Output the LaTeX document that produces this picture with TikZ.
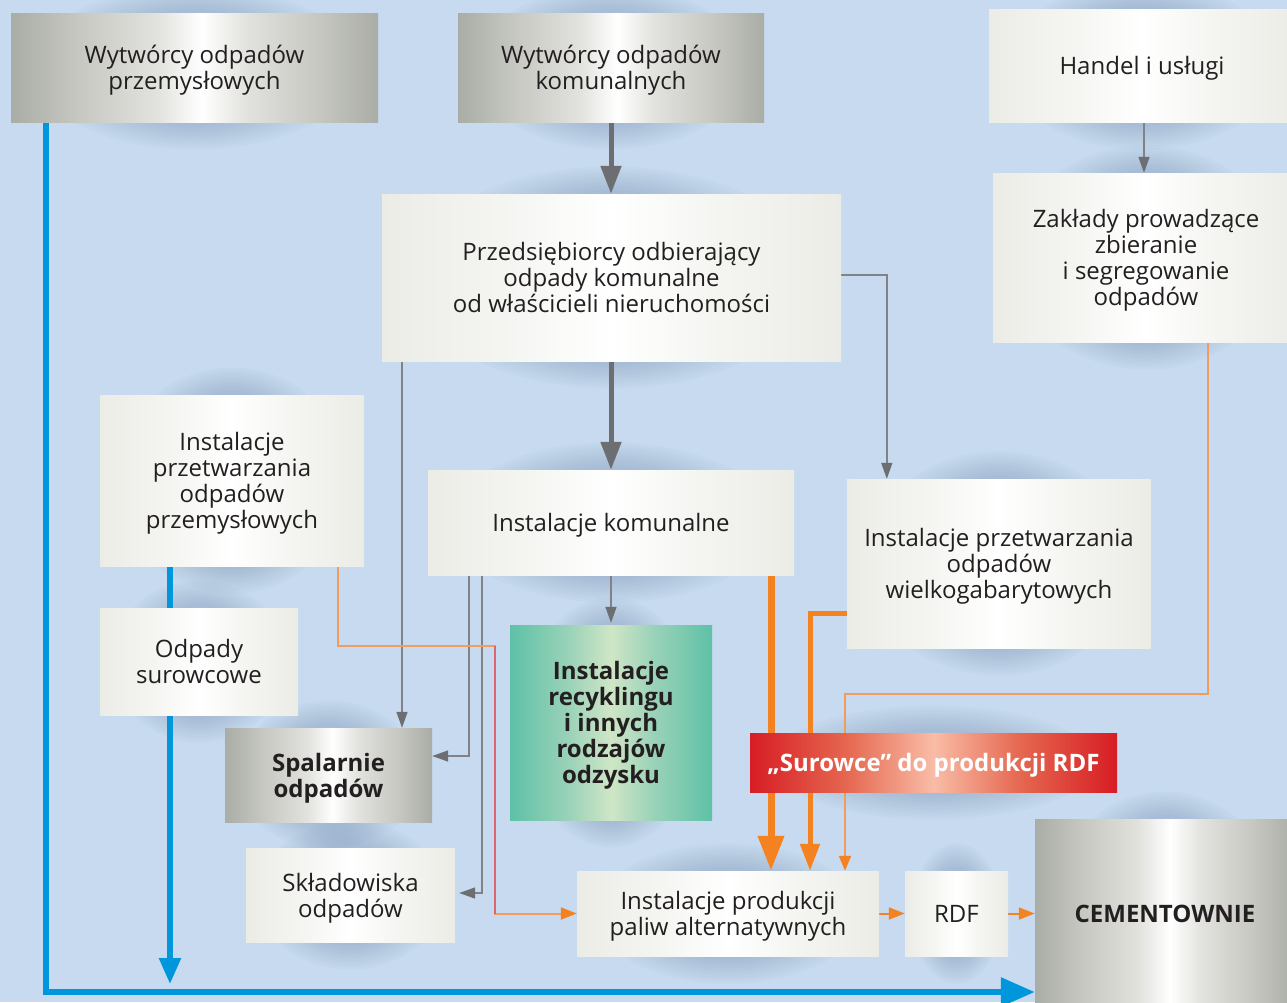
\documentclass[tikz,border=0pt]{standalone}
\usepackage{fontspec}
\setmainfont{Open Sans}
\usetikzlibrary{arrows.meta,calc}
\pgfdeclarelayer{bgl}
\pgfdeclarelayer{shad}
\pgfdeclarelayer{lines}
\pgfsetlayers{bgl,shad,lines,main}
\definecolor{bgblue}{HTML}{C7DAEF}
\definecolor{shadowc}{HTML}{28467A}
\definecolor{txt}{HTML}{231F20}
\definecolor{sv0}{HTML}{AAACA6}
\definecolor{sv1}{HTML}{C6C7C1}
\definecolor{sv2}{HTML}{E2E2DE}
\definecolor{lt0}{HTML}{ECECE7}
\definecolor{lt1}{HTML}{F4F4F1}
\definecolor{gr0}{HTML}{5EC1A7}
\definecolor{gr1}{HTML}{9CD3B9}
\definecolor{gr2}{HTML}{CFE6C6}
\definecolor{rd0}{HTML}{D71D24}
\definecolor{rd1}{HTML}{E5664F}
\definecolor{rd2}{HTML}{F9BCA6}
\definecolor{bluel}{HTML}{0096DB}
\definecolor{grayd}{HTML}{6D6E71}
\definecolor{grayl}{HTML}{808287}
\definecolor{orng}{HTML}{F58220}
\definecolor{orngl}{HTML}{EF9C5C}
\definecolor{pinkl}{HTML}{DC6670}
\pgfdeclarehorizontalshading{silversh}{100bp}{color(0bp)=(sv0); color(25bp)=(sv0); color(34bp)=(sv1); color(45bp)=(sv2); color(51bp)=(white); color(57bp)=(sv2); color(67bp)=(sv1); color(75bp)=(sv0); color(100bp)=(sv0)}
\pgfdeclarehorizontalshading{lightsh}{100bp}{color(0bp)=(lt0); color(25bp)=(lt0); color(38bp)=(lt1); color(50bp)=(white); color(62bp)=(lt1); color(75bp)=(lt0); color(100bp)=(lt0)}
\pgfdeclarehorizontalshading{greensh}{100bp}{color(0bp)=(gr0); color(25bp)=(gr0); color(40bp)=(gr1); color(50bp)=(gr2); color(60bp)=(gr1); color(75bp)=(gr0); color(100bp)=(gr0)}
\pgfdeclarehorizontalshading{redsh}{100bp}{color(0bp)=(rd0); color(25bp)=(rd0); color(38bp)=(rd1); color(50bp)=(rd2); color(62bp)=(rd1); color(75bp)=(rd0); color(100bp)=(rd0)}
\newcommand\mkshadow[1]{%
  \foreach \k in {1,...,10}{%
    \fill[shadowc, fill opacity=0.02] let \p1=(#1.north east), \p2=(#1.south west),
      \n1={(\x1-\x2)/2}, \n2={abs(\y1-\y2)/2} in
      (#1.center) ellipse [x radius={\n1*(0.92-0.04*\k)}, y radius={\n2+30pt-2.6pt*\k}];
  }}
\begin{document}
\begin{tikzpicture}[x=1pt,y=-1pt,
  box/.style={rectangle, inner sep=0pt, align=center, text=txt, text depth=0pt,
    font=\fontsize{24}{26}\selectfont},
  lightbox/.style={box, shading=lightsh, shading angle=0},
  silverbox/.style={box, shading=silversh, shading angle=0},
  greenbox/.style={box, shading=greensh, shading angle=0, font=\fontsize{24}{26}\selectfont\bfseries},
  redbox/.style={box, shading=redsh, shading angle=0, text=white, font=\fontsize{24}{26}\selectfont\bfseries},
  boldtext/.style={font=\fontsize{24}{26}\selectfont\bfseries},
  bluethick/.style={draw=bluel, line width=6pt, line join=miter, -{Triangle[length=34pt,width=28pt]}},
  bluemid/.style={draw=bluel, line width=5.5pt, -{Triangle[length=26pt,width=21pt]}},
  graythick/.style={draw=grayd, line width=5pt, -{Triangle[length=28pt,width=20pt]}},
  graythin/.style={draw=grayl, line width=1.5pt, -{Triangle[length=16pt,width=11pt,color=grayd]}},
  orthick/.style={draw=orng, line width=7pt, -{Triangle[length=35pt,width=25pt]}},
  ormid/.style={draw=orng, line width=5pt, line join=miter, -{Triangle[length=27pt,width=19pt]}},
  orthin/.style={draw=orngl, line width=2pt, -{Triangle[length=15pt,width=12pt,color=orng]}},
  orsmall/.style={draw=orng, line width=2pt, -{Triangle[length=16pt,width=12pt]}}
]
\useasboundingbox (0,0) rectangle (1287,1002);
\begin{pgfonlayer}{bgl}
\fill[bgblue] (0,0) rectangle (1287,1002);
\end{pgfonlayer}

% nodes
\node[silverbox, minimum width=367pt, minimum height=109pt] (w1) at (194.5,67.5) {Wytwórcy odpadów\\przemysłowych};
\node[silverbox, minimum width=306pt, minimum height=109pt] (w2) at (611,67.5) {Wytwórcy odpadów\\komunalnych};
\node[lightbox, minimum width=306pt, minimum height=113pt] (handel) at (1142,65.5) {Handel i usługi};
\node[lightbox, minimum width=459pt, minimum height=167pt] (przed) at (611.5,277.5) {Przedsiębiorcy odbierający\\odpady komunalne\\od właścicieli nieruchomości};
\node[lightbox, minimum width=306pt, minimum height=169pt] (zaklady) at (1146,257.5) {Zakłady prowadzące\\zbieranie\\i segregowanie\\odpadów};
\node[lightbox, minimum width=264pt, minimum height=171pt] (instp) at (232,480.5) {Instalacje\\przetwarzania\\odpadów\\przemysłowych};
\node[lightbox, minimum width=366pt, minimum height=105pt] (instk) at (611,522.5) {Instalacje komunalne};
\node[lightbox, minimum width=304pt, minimum height=169pt] (instw) at (999,563.5) {Instalacje przetwarzania\\odpadów\\wielkogabarytowych};
\node[lightbox, minimum width=198pt, minimum height=107pt] (odp) at (199,661.5) {Odpady\\surowcowe};
\node[silverbox, boldtext, minimum width=207pt, minimum height=94pt] (spal) at (328.5,775) {Spalarnie\\odpadów};
\node[lightbox, minimum width=209pt, minimum height=94pt] (skl) at (350.5,895) {Składowiska\\odpadów};
\node[greenbox, minimum width=202pt, minimum height=195pt] (recy) at (611,722.5) {Instalacje\\recyklingu\\i innych\\rodzajów\\odzysku};
\node[redbox, minimum width=367pt, minimum height=59pt] (surowce) at (933.5,762.5) {„Surowce” do produkcji RDF};
\node[lightbox, minimum width=302pt, minimum height=85pt] (prod) at (728,913.5) {Instalacje produkcji\\paliw alternatywnych};
\node[lightbox, minimum width=103pt, minimum height=85pt] (rdf) at (956.5,913.5) {RDF};
\node[silverbox, boldtext, minimum width=260pt, minimum height=189pt] (cem) at (1165,913.5) {CEMENTOWNIE};

\coordinate (bluejoin) at (170,984);

% soft shadows
\begin{pgfonlayer}{shad}
\foreach \b in {w1,w2,handel,przed,zaklady,instp,instk,instw,odp,spal,skl,recy,surowce,prod,rdf,cem}{\mkshadow{\b}}
\end{pgfonlayer}

% connectors
\begin{pgfonlayer}{lines}
\draw[bluethick] (w1.south -| 46,0) |- (cem.west |- 0,992);
\draw[bluemid] (instp.south -| 170,0) -- (bluejoin);
\draw[graythick] (w2.south) -- (w2.south |- przed.north);
\draw[graythick] (przed.south -| instk.north) -- (instk.north);
\draw[graythin] (przed.east |- 0,275) -| ($(instw.north west)+(40,0)$);
\draw[graythin] (handel.south -| 1144,0) -- (zaklady.north -| 1144,0);
\draw[graythin] (przed.south -| 402,0) -- (spal.north -| 402,0);
\draw[graythin] (instk.south -| 469,0) |- (spal.east |- 0,756);
\draw[graythin] (instk.south -| 482,0) |- ($(skl.east)+(4,-2)$);
\draw[graythin] (instk.south) -- ($(recy.north)+(0,-2)$);
\draw[orngl, line width=2pt, -{Triangle[length=16pt,width=12pt,color=orng]}] (instp.south -| 338,0) |- (495,646) |- (prod.west);
\draw[pinkl, line width=2pt] (495,646) -- (495,914);
\draw[orthick] (instk.south -| 771,0) -- (prod.north -| 771,0);
\draw[ormid] (instw.west |- 0,613) -| (prod.north -| 810,0);
\draw[orthin, line join=miter] (zaklady.south -| 1208,0) |- (845,694) -- (prod.north -| 845,0);
\draw[orsmall] (prod.east) -- (rdf.west);
\draw[orsmall] (rdf.east) -- (cem.west |- rdf.east);
\end{pgfonlayer}
\end{tikzpicture}
\end{document}
